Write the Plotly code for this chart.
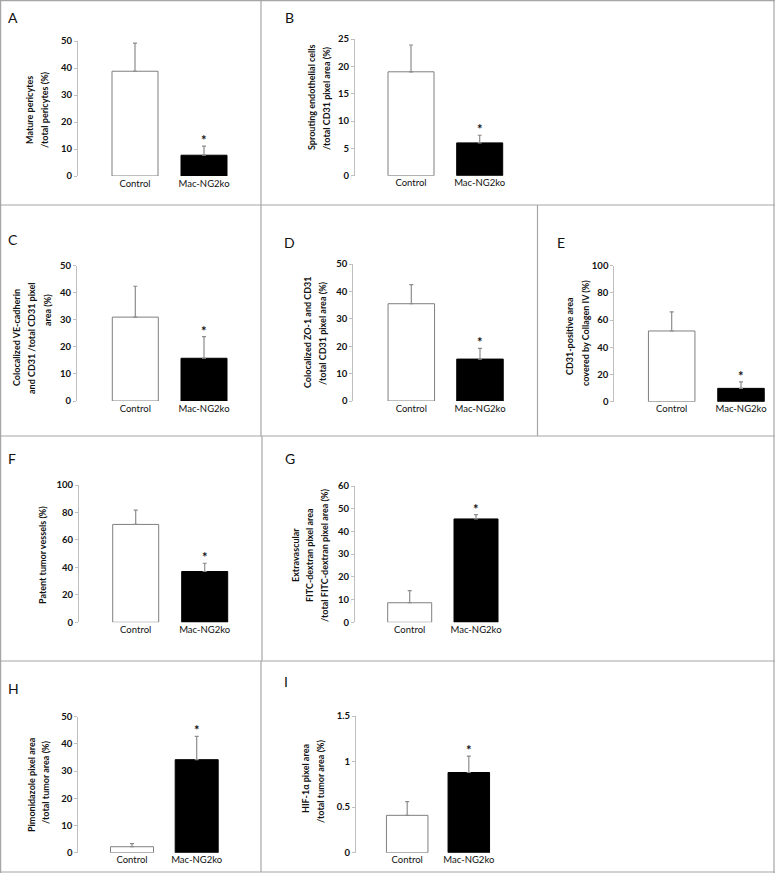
import plotly.graph_objects as go

W, H = 775, 873

# ---------------- data ----------------
panel_letters = ["A", "B", "C", "D", "E", "F", "G", "H", "I"]
groups = ["Control", "Mac-NG2ko"]
control_mean = [38.8, 19.0, 31.0, 35.5, 52.0, 71.3, 8.6, 2.2, 0.41]
control_err = [10.4, 4.9, 11.4, 7.0, 14.0, 10.4, 5.3, 1.1, 0.15]
mac_mean = [7.7, 6.0, 15.8, 15.3, 9.8, 37.0, 45.5, 34.2, 0.88]
mac_err = [3.4, 1.4, 8.0, 3.9, 4.8, 6.0, 1.9, 8.6, 0.18]
y_max = [50, 25, 50, 50, 100, 100, 60, 50, 1.5]
y_step = [10, 5, 10, 10, 20, 20, 10, 10, 0.5]
significance = ["*", "*", "*", "*", "*", "*", "*", "*", "*"]
y_titles = [
    ["Mature pericytes", "/total pericytes (%)"],
    ["Sprouting endothelial cells", "/total CD31 pixel area (%)"],
    ["Colocalized VE-cadherin", "and CD31 /total CD31 pixel", "area (%)"],
    ["Colocalized ZO-1 and CD31", "/total CD31 pixel area (%)"],
    ["CD31-positive area", "covered by Collagen IV (%)"],
    ["Patent tumor vessels (%)"],
    ["Extravascular", "FITC-dextran pixel area", "/total FITC-dextran pixel area (%)"],
    ["Pimonidazole pixel area", "/total tumor area (%)"],
    ["HIF-1α pixel area", "/total tumor area (%)"],
]

# ---------------- layout spec (pixels) ----------------
# axis_x, y_zero, y_top, ctrl_center, mac_center, bar_width, letter_x, letter_y, title_xs, title_ys
geom = [
    (77, 176, 41, 135, 204, 46, 13, 17.5, [29, 44], [110, 110]),
    (354, 175.7, 39, 411, 479.7, 46, 289, 17.5, [311, 326], [97, 98]),
    (76, 401, 265.7, 135.3, 204, 46, 13, 239, [17, 32, 47], [338, 338, 310]),
    (352.3, 401, 264, 411.3, 480, 46.5, 289, 242, [307, 322], [332, 333]),
    (613.3, 401.7, 265.7, 671.7, 741, 46.5, 561, 242, [570, 585], [336, 333]),
    (78, 622.3, 485, 135.7, 204.7, 46, 11.5, 458, [42], [555]),
    (354, 622.3, 486, 409.7, 476, 44, 290, 458, [295, 309, 324], [555, 555, 556]),
    (77.3, 852.7, 716.7, 132, 196.7, 43, 13, 688, [31, 45], [785, 783]),
    (355, 852.7, 716, 407.2, 468.8, 41.5, 286, 681, [305, 320], [779, 782]),
]

FONT = "Lato"
AXIS_GRAY = "#bfbfbf"
BORDER = "#a6a6a6"
TEXT = "#111111"

fig = go.Figure()
layout = dict(
    width=W, height=H,
    margin=dict(l=0, r=0, t=0, b=0, pad=0, autoexpand=False),
    paper_bgcolor="white", plot_bgcolor="white", showlegend=False,
    font=dict(family=FONT, color=TEXT),
)
annotations = []
shapes = []

for i in range(9):
    ax_x, y0, ytop, cc, mc, bw, lx, ly, txs, tys = geom[i]
    k = "" if i == 0 else str(i + 1)
    xn, yn = "x" + k, "y" + k
    spacing = mc - cc
    d0 = ax_x + 1
    d1 = min(mc + spacing * 0.9, W - 3)
    fig.add_trace(go.Bar(
        x=groups, y=[control_mean[i], mac_mean[i]],
        width=bw / spacing,
        marker=dict(color=["white", "black"],
                    line=dict(color=["#7f7f7f", "black"], width=1)),
        error_y=dict(type="data", symmetric=False,
                     array=[control_err[i], mac_err[i]], arrayminus=[0, 0],
                     color="#8c8c8c", thickness=1.2, width=2),
        xaxis=xn, yaxis=yn, hoverinfo="skip",
    ))
    layout["xaxis" + k] = dict(
        domain=[d0 / W, d1 / W], anchor=yn, automargin=False,
        type="category", range=[(d0 - cc) / spacing, (d1 - cc) / spacing],
        showline=False, showgrid=False, fixedrange=True,
        zeroline=False, ticks="",
        tickfont=dict(family=FONT, size=9.5, color=TEXT),
    )
    layout["yaxis" + k] = dict(
        domain=[1 - y0 / H, 1 - ytop / H], anchor="free", position=ax_x / W,
        automargin=False, fixedrange=True,
        range=[0, y_max[i]], tick0=0, dtick=y_step[i], showline=True,
        linecolor=AXIS_GRAY, linewidth=1, ticks="outside", ticklen=3,
        tickcolor=AXIS_GRAY, showgrid=False, zeroline=False,
        tickfont=dict(family=FONT, size=9.5, color=TEXT, weight="bold"),
    )
    # significance star
    annotations.append(dict(
        xref=xn, yref=yn, x=groups[1], y=mac_mean[i] + mac_err[i],
        text="<b>" + significance[i] + "</b>", showarrow=False,
        yanchor="middle", yshift=6, font=dict(family=FONT, size=13, color=TEXT),
    ))
    # panel letter
    annotations.append(dict(
        xref="paper", yref="paper", x=lx / W, y=1 - ly / H,
        text=panel_letters[i], showarrow=False, xanchor="center", yanchor="middle",
        font=dict(family=FONT, size=14, color=TEXT),
    ))
    # y-axis title lines
    for t, tx, ty in zip(y_titles[i], txs, tys):
        annotations.append(dict(
            xref="paper", yref="paper", x=tx / W, y=1 - ty / H,
            text="<b>" + t + "</b>", showarrow=False, textangle=-90,
            xanchor="center", yanchor="middle",
            font=dict(family=FONT, size=9, color=TEXT),
        ))

# panel borders
def hline(y, x0, x1):
    shapes.append(dict(type="line", xref="paper", yref="paper",
                       x0=x0 / W, x1=x1 / W, y0=1 - y / H, y1=1 - y / H,
                       line=dict(color=BORDER, width=1.2)))

def vline(x, y0, y1):
    shapes.append(dict(type="line", xref="paper", yref="paper",
                       x0=x / W, x1=x / W, y0=1 - y0 / H, y1=1 - y1 / H,
                       line=dict(color=BORDER, width=1.2)))

hline(0.6, 0, 775)
hline(872, 0, 775)
vline(0.6, 0, 873)
vline(774, 0, 873)
hline(205, 0, 775)
hline(436, 0, 775)
hline(661, 0, 775)
vline(261, 0, 205)
vline(261, 205, 436)
vline(537.5, 205, 436)
vline(262, 436, 661)
vline(261, 661, 872)

layout["annotations"] = annotations
layout["shapes"] = shapes
fig.update_layout(**layout)
fig.write_html(
    "out.html",
    config={"displayModeBar": False, "staticPlot": True},
    post_script="document.documentElement.style.margin='0';"
                "document.body.style.margin='0';"
                "document.body.style.overflow='hidden';",
)
